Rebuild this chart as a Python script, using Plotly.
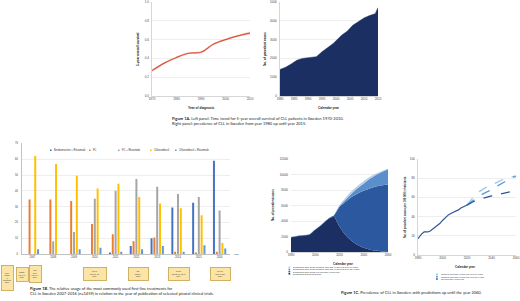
import plotly.graph_objects as go

W, H = 520, 301
def px(x): return x / W
def py(y): return 1 - y / H

# ---- Figure 1A left: 5-year overall survival ----
surv_years = [1970, 1975, 1980, 1985, 1990, 1995, 2000, 2005, 2010]
surv_vals = [0.27, 0.35, 0.41, 0.455, 0.465, 0.55, 0.60, 0.64, 0.67]
surv_lo = [0.255, 0.34, 0.40, 0.445, 0.455, 0.54, 0.59, 0.63, 0.655]
surv_hi = [0.285, 0.36, 0.42, 0.465, 0.475, 0.56, 0.61, 0.65, 0.685]

# ---- Figure 1A right: prevalent cases ----
prev_years = [1980, 1982, 1984, 1986, 1988, 1990, 1992, 1993, 1995, 1997, 1999, 2002, 2004, 2006, 2008, 2010, 2012, 2014, 2015]
prev_vals = [1410, 1530, 1700, 1900, 2000, 2020, 2080, 2090, 2350, 2550, 2790, 3230, 3450, 3760, 3950, 4150, 4280, 4380, 4700]

# ---- Figure 1B: treatment usage ----
b_years = ["2007", "2008", "2009", "2010", "2011", "2012", "2013", "2014", "2015", "2016"]
b_names = ["Bendamustine + Rituximab", "FC", "FC + Rituximab", "Chlorambucil", "Chlorambucil + Rituximab"]
b_br = [0, 0, 0, 0, 1, 5, 10, 29.5, 32.5, 59]
b_fc = [34.5, 34.5, 33.5, 19, 12.5, 8, 10.5, 1.5, 1, 1.5]
b_fcr = [0, 8, 14, 35, 40, 47.5, 42.5, 38, 36, 27.5]
b_clb = [62, 57, 49.5, 41.5, 44.5, 36, 32, 29, 24.5, 7]
b_clbr = [3, 0, 3, 4, 1.5, 3, 5, 1.5, 5.5, 3.5]
b_colors = ["#4472C4", "#ED7D31", "#A5A5A5", "#FFC000", "#5B9BD5"]
trial_labels = ["CLL4<br>Phase<br>3<br>Eichhorst<br>2006", "ECOG<br>FC vs. F<br>2007", "LRF<br>CLL4<br>FC vs. F<br>2007",
                "CLL 8<br>FCR vs. FC<br>2010", "BR<br>Phase II<br>2012", "CLL11<br>Clb-Ob vs. Clb-R<br>2014", "CLL 10<br>FCR vs. BR<br>2016"]

# ---- Figure 1C left: projected prevalence ----
c_years = [1980, 1985, 1990, 1995, 2000, 2005, 2010, 2015, 2020, 2025, 2030, 2035, 2040, 2045, 2050, 2055, 2060]
c_before = [1900, 2050, 2150, 2250, 2900, 3500, 4200, 4650, 3300, 2200, 1450, 900, 550, 300, 150, 60, 0]
c_noinc = [1900, 2050, 2150, 2250, 2900, 3500, 4200, 4650, 5850, 6500, 7100, 7550, 7900, 8200, 8450, 8600, 8720]
c_30y = [1900, 2050, 2150, 2250, 2900, 3500, 4200, 4650, 5900, 6750, 7550, 8250, 8850, 9450, 9950, 10330, 10680]
c_5y = [1900, 2050, 2150, 2250, 2900, 3500, 4200, 4650, 6000, 6950, 7800, 8500, 9100, 9650, 10080, 10400, 10700]
c_names = ["Diagnosed after 2015 (gradual increase in survival over 5 years)",
           "Diagnosed after 2015 (gradual increase in survival over 30 years)",
           "Diagnosed after 2015 (no increase in survival)",
           "Diagnosed 2015 and before"]
c_colors = ["#B4CFEA", "#5B8FCB", "#2C58A0", "#1C2F62"]

# ---- Figure 1C right: per 100 000 ----
r_hist_years = [1980, 1983, 1985, 1988, 1990, 1993, 1995, 1998, 2000, 2003, 2005, 2008, 2010, 2013, 2015, 2018, 2020]
r_hist_vals = [17, 22, 24, 24, 25, 28, 30, 33, 36, 40, 42, 44, 45, 47, 49, 51, 52]
r_proj_years = [2020, 2025, 2030, 2035, 2040, 2045, 2050, 2055, 2060]
r_5y = [52, 60, 66, 70, 73, 76, 79, 81, 82.5]
r_30y = [52, 57, 61.5, 65, 68, 72, 76, 79.5, 82]
r_noinc = [52, 55.5, 58, 60, 61.5, 63, 64.5, 66, 67]
r_names = ["Gradual increase in survival over 5 years", "Gradual increase in survival over 30 years", "No increase in survival"]
r_colors = ["#9DC3E6", "#5B9BD5", "#2F5597"]

FONT = "Liberation Sans"
fig = go.Figure()

# 1A left
fig.add_trace(go.Scatter(x=surv_years, y=surv_lo, mode="lines", line=dict(width=0, shape="spline"), xaxis="x", yaxis="y", showlegend=False, hoverinfo="skip"))
fig.add_trace(go.Scatter(x=surv_years, y=surv_hi, mode="lines", line=dict(width=0, shape="spline"), fill="tonexty", fillcolor="rgba(240,170,160,0.55)", xaxis="x", yaxis="y", showlegend=False, hoverinfo="skip"))
fig.add_trace(go.Scatter(x=surv_years, y=surv_vals, mode="lines", line=dict(color="#D9553E", width=1.2, shape="spline"), xaxis="x", yaxis="y", showlegend=False))

# 1A right
fig.add_trace(go.Scatter(x=prev_years, y=prev_vals, mode="lines", line=dict(color="#1B2F63", width=0.5), fill="tozeroy", fillcolor="#1B2F63", xaxis="x2", yaxis="y2", showlegend=False))

# 1B
for name, vals, col in zip(b_names, [b_br, b_fc, b_fcr, b_clb, b_clbr], b_colors):
    fig.add_trace(go.Bar(x=b_years, y=vals, name=name, marker=dict(color=col, line=dict(width=0)), xaxis="x3", yaxis="y3", showlegend=False))

# 1C left (layered fills)
fig.add_trace(go.Scatter(x=c_years, y=c_before, mode="lines", line=dict(width=0, shape="spline", smoothing=0.6), fill="tozeroy", fillcolor=c_colors[3], xaxis="x4", yaxis="y4", showlegend=False))
fig.add_trace(go.Scatter(x=c_years, y=c_noinc, mode="lines", line=dict(width=0, shape="spline", smoothing=0.6), fill="tonexty", fillcolor=c_colors[2], xaxis="x4", yaxis="y4", showlegend=False))
fig.add_trace(go.Scatter(x=c_years, y=c_30y, mode="lines", line=dict(width=0, shape="spline", smoothing=0.6), fill="tonexty", fillcolor=c_colors[1], xaxis="x4", yaxis="y4", showlegend=False))
fig.add_trace(go.Scatter(x=c_years, y=c_5y, mode="lines", line=dict(width=0.4, color="#8FB3DC", shape="spline", smoothing=0.6), fill="tonexty", fillcolor=c_colors[0], xaxis="x4", yaxis="y4", showlegend=False))

# 1C right
fig.add_trace(go.Scatter(x=r_hist_years, y=r_hist_vals, mode="lines", line=dict(color="#2F5597", width=1.2), xaxis="x5", yaxis="y5", showlegend=False))
for name, vals, col in zip(r_names, [r_5y, r_30y, r_noinc], r_colors):
    fig.add_trace(go.Scatter(x=r_proj_years, y=vals, mode="lines", name=name, line=dict(color=col, width=1.3, dash="dash"), xaxis="x5", yaxis="y5", showlegend=False))

ax_common = dict(showgrid=False, zeroline=False, ticks="", tickfont=dict(size=3, color="#444", family=FONT), automargin=False, fixedrange=True)
grid = dict(showgrid=True, gridcolor="#E3E3E3", gridwidth=0.6)

annotations = []
shapes = []

def text(x, y, s, size=3, bold=False, angle=0, xanchor="center", yanchor="middle", color="#222", family=FONT):
    annotations.append(dict(x=px(x), y=py(y), xref="paper", yref="paper", text=(f"<b>{s}</b>" if bold else s),
                            showarrow=False, textangle=angle, xanchor=xanchor, yanchor=yanchor,
                            font=dict(size=size, color=color, family=family)))

layout = dict(
    width=W, height=H, margin=dict(l=0, r=0, t=0, b=0), paper_bgcolor="white", plot_bgcolor="white",
    showlegend=False, barmode="group", bargap=0.32, bargroupgap=0.3,
    xaxis=dict(domain=[px(152), px(250)], range=[1970, 2010], tickvals=[1970, 1980, 1990, 2000, 2010], anchor="y",
               showline=True, linecolor="#BBB", linewidth=0.6, **ax_common),
    yaxis=dict(domain=[py(96), py(2)], range=[0, 1.0], dtick=0.2, tickformat=".1f", anchor="x",
               showline=True, linecolor="#BBB", linewidth=0.6, ticklabelstandoff=2, **{**ax_common, **grid}),
    xaxis2=dict(domain=[px(280), px(378)], range=[1980, 2015], dtick=5, anchor="y2",
                showline=True, linecolor="#BBB", linewidth=0.6, **ax_common),
    yaxis2=dict(domain=[py(96), py(2)], range=[0, 5000], dtick=1000, tickformat="d", anchor="x2",
                showline=True, linecolor="#BBB", linewidth=0.6, ticklabelstandoff=2, **{**ax_common, **grid}),
    xaxis3=dict(domain=[px(22), px(230)], anchor="y3", type="category",
                showline=True, linecolor="#999", linewidth=0.6, **{**ax_common, "tickfont": dict(size=2.6, color="#333", family=FONT)}),
    yaxis3=dict(domain=[py(254), py(143.4)], range=[0, 70], dtick=10, anchor="x3",
                showline=True, linecolor="#999", linewidth=0.6, ticklabelstandoff=3,
                **{**ax_common, **grid, "tickfont": dict(size=2.6, color="#333", family=FONT)}),
    xaxis4=dict(domain=[px(291), px(388)], range=[1980, 2060], dtick=20, anchor="y4",
                showline=True, linecolor="#BBB", linewidth=0.6, **ax_common),
    yaxis4=dict(domain=[py(252), py(159)], range=[0, 12000], dtick=2000, tickformat="d", anchor="x4",
                showline=False, ticklabelstandoff=2, **{**ax_common, **grid}),
    xaxis5=dict(domain=[px(418), px(516)], range=[1980, 2060], dtick=20, anchor="y5",
                showline=True, linecolor="#BBB", linewidth=0.6, **ax_common),
    yaxis5=dict(domain=[py(255), py(159)], range=[0, 100], dtick=20, anchor="x5",
                showline=True, linecolor="#BBB", linewidth=0.6, ticklabelstandoff=2, **{**ax_common, **grid}),
)

# axis titles
text(201, 108, "Year of diagnosis", size=3.2, bold=True)
text(138, 49, "5-year overall survival", size=3.2, bold=True, angle=-90)
text(329, 108, "Calendar year", size=3.2, bold=True)
text(265, 49, "No. of prevalent cases", size=3.2, bold=True, angle=-90)
text(343, 264, "Calendar year", size=3, bold=True)
text(273, 205, "No. of prevalent cases", size=3, bold=True, angle=-90)
text(465, 267, "Calendar year", size=3, bold=True)
text(405, 207, "No. of prevalent cases per 100 000 inhabitants", size=2.8, bold=True, angle=-90)
text(236, 254, "year", size=2.4)

# captions
CAP = "Lato"
text(170, 118, "<b>Figure 1A.</b> Left panel: Time trend for 5-year overall survival of CLL patients in Sweden 1970-2010.", size=4, xanchor="left", family=CAP)
text(170, 123.5, "Right panel: prevalence of CLL in Sweden from year 1980 up until year 2015.", size=4, xanchor="left", family=CAP)
text(28, 288, "<b>Figure 1B.</b> The relative usage of the most commonly used first-line treatments for", size=4, xanchor="left", family=CAP)
text(28, 293.5, "CLL in Sweden 2007-2016 (n=1459) in relation to the year of publication of selected pivotal clinical trials.", size=4, xanchor="left", family=CAP)
text(339, 292, "<b>Figure 1C.</b> Prevalence of CLL in Sweden, with predictions up until the year 2060.", size=4, xanchor="left", family=CAP)

# 1B legend
leg_x = [50, 89, 118, 150, 175]
for lx, name, col in zip(leg_x, b_names, b_colors):
    shapes.append(dict(type="rect", xref="paper", yref="paper", x0=px(lx), x1=px(lx + 1.6), y0=py(151), y1=py(149.4), fillcolor=col, line=dict(width=0)))
    text(lx + 2.3, 150.2, name, size=2.6, xanchor="left", color="#333")

# 1B trial boxes
boxes = [(7.5, 265, 11, 24), (22, 266.5, 11, 13.5), (35, 265, 11, 16), (94.5, 266.5, 22, 12), (138, 266.5, 19, 12), (178.5, 266.5, 20, 12), (220, 266.5, 19, 12)]
for (bx, by, bw, bh), lab in zip(boxes, trial_labels):
    annotations.append(dict(x=px(bx), y=py(by), xref="paper", yref="paper", text=lab, showarrow=False,
                            xanchor="center", yanchor="top", width=bw, height=bh, borderpad=0,
                            bgcolor="#FBE5A6", bordercolor="#C9A24A", borderwidth=0.8,
                            font=dict(size=1.8, color="#333", family=FONT)))

# 1C left legend
for i, (name, col) in enumerate(zip(c_names, c_colors)):
    yy = 267.3 + i * 2.15
    shapes.append(dict(type="rect", xref="paper", yref="paper", x0=px(288.5), x1=px(290.2), y0=py(yy + 0.8), y1=py(yy - 0.8), fillcolor=col, line=dict(width=0)))
    text(291, yy, name, size=2.3, xanchor="left", color="#333")

# 1C right legend
for i, (name, col) in enumerate(zip(r_names, r_colors)):
    yy = 274.3 + i * 2.35
    shapes.append(dict(type="rect", xref="paper", yref="paper", x0=px(436), x1=px(437.8), y0=py(yy + 0.8), y1=py(yy - 0.8), fillcolor=col, line=dict(width=0)))
    text(438.6, yy, name, size=2.3, xanchor="left", color="#333")

layout["annotations"] = annotations
layout["shapes"] = shapes
fig.update_layout(**layout)
fig.write_html("out.html", config={"displayModeBar": False, "staticPlot": True},
               post_script="document.body.style.margin='0';document.body.style.padding='0';document.body.style.overflow='hidden';")
